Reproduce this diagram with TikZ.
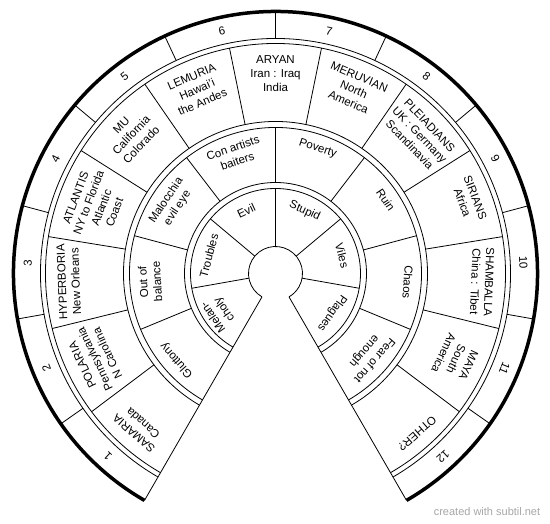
\documentclass[tikz,border=0pt]{standalone}
\usepackage{fontspec}
\setmainfont{Liberation Sans}
\begin{document}
\begin{tikzpicture}[x=1pt,y=1pt,
  ringline/.style={line width=0.8pt},
  rimline/.style={line width=3.5pt},
  lbl/.style={font=\fontsize{11.5}{13.8}\selectfont, align=center, inner sep=0pt},
  mark/.style={},
]
\useasboundingbox (-275.5,-250.5) rectangle (274.5,273.5);
% rings
\foreach \r in {27,85,91,146,152,230,235}
  \draw[ringline] (240:\r) arc[start angle=240,end angle=-60,radius=\r];
\draw[rimline] (240:262) arc[start angle=240,end angle=-60,radius=262];
% wedge edges
\draw[ringline] (240:27) -- (240:262);
\draw[ringline] (300:27) -- (300:262);
% dividers
\foreach \k in {1,...,11}
  \draw[ringline] ({240-25*\k}:235) -- ({240-25*\k}:260.5);
\foreach \k in {1,...,12}
  \draw[ringline] ({240-300/13*\k}:152) -- ({240-300/13*\k}:230);
\foreach \k in {1,...,7}
  \draw[ringline] ({240-37.5*\k}:91) -- ({240-37.5*\k}:146);
\foreach \k in {1,...,5}
  \draw[ringline] ({240-50*\k}:27) -- ({240-50*\k}:85);
% numbers
\foreach \n in {1,...,12}{
  \pgfmathsetmacro\a{240-25*(\n-0.5)}
  \node[lbl, rotate=\a-90] (N\n) at (\a:248) {\n};
}
% label ring
\foreach \t [count=\i from 0] in {{SAMARIA\\Canada},{POLARIA\\Pennsylvania\\N Carolina},{HYPERBORIA\\New Orleans},{ATLANTIS\\NY to Florida\\Atlantic\\Coast},{MU\\California\\Colorado},{LEMURIA\\Hawai'i\\the Andes},{ARYAN\\Iran : Iraq\\India},{MERUVIAN\\North\\America},{PLEIADIANS\\UK : Germany\\Scandinavia},{SIRIANS\\Africa},{SHAMBALLA\\China : Tibet},{MAYA\\South\\America},{OTHER?}}{
  \pgfmathsetmacro\a{240-300/13*(\i+0.5)}
  \node[lbl, rotate=\a-90, anchor=north] (L\i) at (\a:218) {\t};
}
% middle ring
\foreach \t [count=\i from 0] in {{Gluttony},{Out of\\balance},{Malocchia\\evil eye},{Con artists\\baiters},{Poverty},{Ruin},{Chaos},{Fear of not\\enough}}{
  \pgfmathsetmacro\a{240-37.5*(\i+0.5)}
  \node[lbl, rotate=\a-90, anchor=north] (M\i) at (\a:137) {\t};
}
% inner ring
\foreach \t [count=\i from 0] in {{Melan-\\choly},{Troubles},{Evil},{Stupid},{Viles},{Plagues}}{
  \pgfmathsetmacro\a{240-50*(\i+0.5)}
  \node[lbl, rotate=\a-90] (I\i) at (\a:69) {\t};
}
\node[font=\fontsize{11}{13}\selectfont, text=black!35, inner sep=0pt] (wm) at (211.5,-238.5) {created with subtil.net};
\end{tikzpicture}
\end{document}
